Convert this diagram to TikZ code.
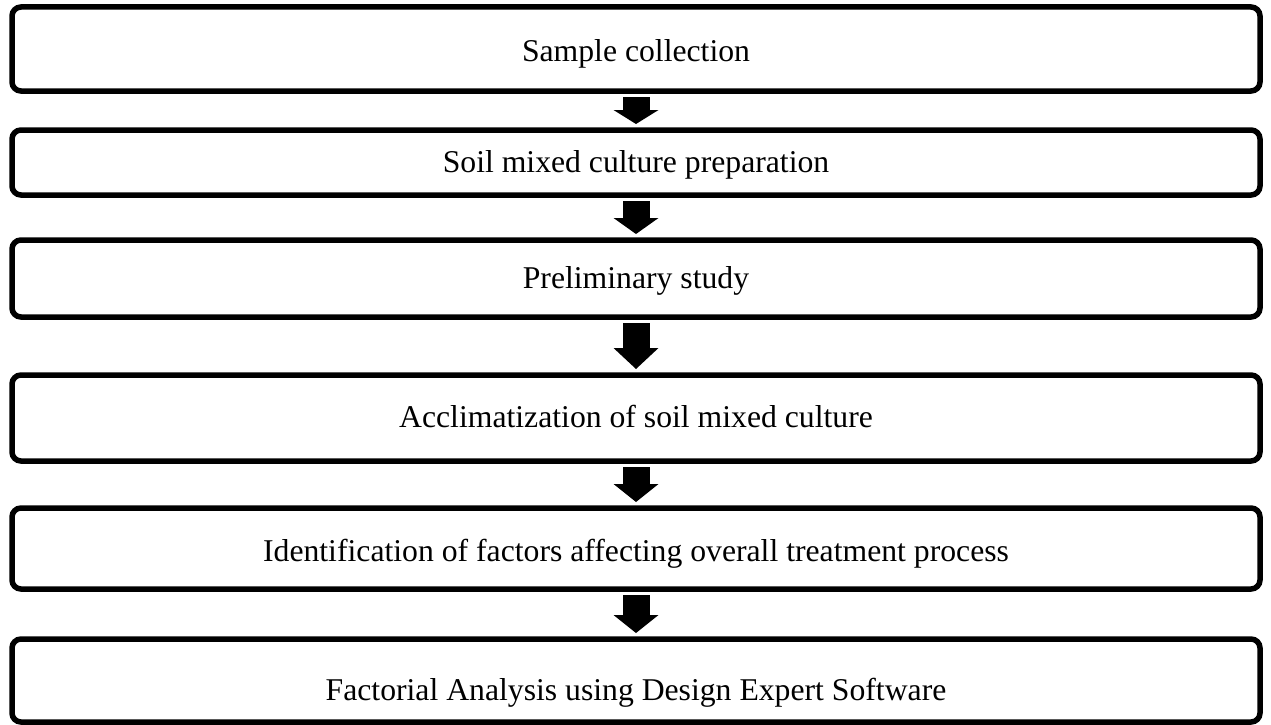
\documentclass[tikz,border=0pt]{standalone}
\usepackage{fontspec}
\setmainfont{Liberation Serif}
\usetikzlibrary{arrows.meta}
\begin{document}
\begin{tikzpicture}[x=1pt,y=-1pt,
  stagebox/.style={draw=black, line width=5.5pt, rounded corners=9pt,
    minimum width=1248pt, inner sep=0pt, outer sep=0pt},
  stagetext/.style={anchor=base, inner sep=0pt,
    font=\fontsize{31.7}{38}\selectfont},
  flowarrow/.style={line width=27pt, line cap=butt, shorten <=6pt, shorten >=6pt,
    -{Triangle[width=45pt,length=#1,line width=0pt]}},
  flowarrow/.default=17pt]
  \useasboundingbox (0,0) rectangle (1271,725);

  % process stages, top to bottom
  \node[stagebox, minimum height=84pt] (s1) at (636,49)    {};
  \node[stagebox, minimum height=65pt] (s2) at (636,162.5) {};
  \node[stagebox, minimum height=77pt] (s3) at (636,278.5) {};
  \node[stagebox, minimum height=86pt] (s4) at (636,418)   {};
  \node[stagebox, minimum height=81pt] (s5) at (636,548.5) {};
  \node[stagebox, minimum height=83pt] (s6) at (636,680.5) {};

  % stage captions, set on their baselines
  \node[stagetext] (t1) at (636,62)  {Sample collection};
  \node[stagetext] (t2) at (636,172) {Soil mixed culture preparation};
  \node[stagetext] (t3) at (636,288) {Preliminary study};
  \node[stagetext] (t4) at (636,427) {Acclimatization of soil mixed culture};
  \node[stagetext] (t5) at (636,561) {Identification of factors affecting overall treatment process};
  \node[stagetext] (t6) at (636,700) {Factorial Analysis using Design Expert Software};

  % block arrows between stages
  \draw[flowarrow=14pt] (s1.south) -- (s2.north);
  \draw[flowarrow=16pt] (s2.south) -- (s3.north);
  \draw[flowarrow=21pt] (s3.south) -- (s4.north);
  \draw[flowarrow=18pt] (s4.south) -- (s5.north);
  \draw[flowarrow=18pt] (s5.south) -- (s6.north);
\end{tikzpicture}
\end{document}
